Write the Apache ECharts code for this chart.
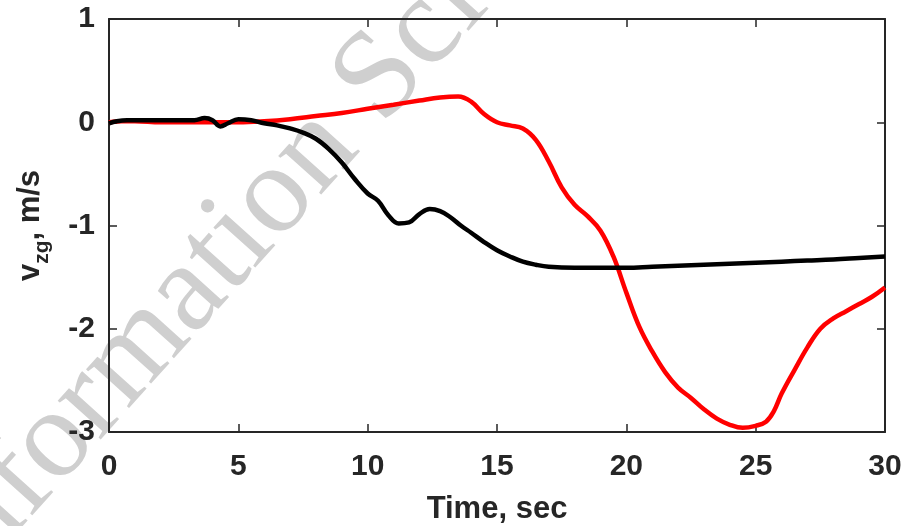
<!DOCTYPE html>
<html>
<head>
<meta charset="utf-8">
<script src="https://cdn.jsdelivr.net/npm/echarts@6/dist/echarts.min.js"></script>
<style>
html,body{margin:0;padding:0;background:#fff;}
#c{width:916px;height:526px;}
</style>
</head>
<body>
<div id="c"></div>
<script>
// ---- data ----
var tRed = [0,0.5,1,2,3,4,5,6,7,8,9,10,11,12,12.8,13.5,14,14.5,15,15.5,16,16.5,17,17.5,18,18.5,19,19.5,20,20.5,21,21.5,22,22.5,23,23.5,24,24.5,25,25.4,25.7,26,26.5,27,27.5,28,28.5,29,29.5,30];
var vRed = [0,0.01,0.01,0,0,0,0,0.01,0.03,0.06,0.09,0.13,0.17,0.21,0.24,0.25,0.2,0.08,0,-0.03,-0.06,-0.17,-0.38,-0.63,-0.8,-0.91,-1.05,-1.3,-1.65,-1.98,-2.22,-2.42,-2.57,-2.67,-2.78,-2.87,-2.93,-2.96,-2.94,-2.9,-2.8,-2.63,-2.4,-2.18,-2.0,-1.9,-1.83,-1.76,-1.69,-1.6];

var tBlack = [0,0.3,0.7,1.5,2.5,3.3,3.7,4.0,4.3,4.6,5.0,5.5,6.0,6.5,7.0,7.5,8.0,8.5,9.0,9.5,10.0,10.4,10.8,11.2,11.6,12.0,12.4,12.8,13.2,13.6,14.0,14.5,15.0,15.5,16.0,16.5,17.0,18.0,19.0,20.0,21.0,22.0,23.0,24.0,25.0,26.0,27.0,28.0,29.0,30.0];
var vBlack = [-0.01,0.01,0.02,0.02,0.02,0.02,0.04,0.02,-0.04,-0.01,0.03,0.02,-0.01,-0.03,-0.06,-0.1,-0.16,-0.26,-0.39,-0.55,-0.69,-0.76,-0.9,-0.98,-0.97,-0.89,-0.84,-0.86,-0.92,-1.0,-1.07,-1.16,-1.24,-1.3,-1.35,-1.38,-1.4,-1.41,-1.41,-1.41,-1.4,-1.39,-1.38,-1.37,-1.36,-1.35,-1.34,-1.33,-1.315,-1.3];

var xMin = 0, xMax = 30, xStep = 5;
var yMin = -3, yMax = 1, yStep = 1;
var xTitle = 'Time, sec';
var watermark = 'Information Science';

function pairs(t, v) { return t.map(function (x, i) { return [x, v[i]]; }); }

var dark = '#262626';
var fontFam = '"Liberation Sans", Arial, Helvetica, sans-serif';

var chart = echarts.init(document.getElementById('c'), null, {renderer: 'canvas'});
var axisLine = {show: true, onZero: false, lineStyle: {color: dark, width: 2}};
var tick = {show: true, inside: true, length: 8, lineStyle: {color: dark, width: 1.5}};

chart.setOption({
  animation: false,
  backgroundColor: '#fff',
  grid: {left: 109, right: 31, top: 19, bottom: 94, containLabel: false, outerBoundsMode: 'none'},
  graphic: [{
    type: 'text',
    x: -66, y: 575,
    rotation: 48 * Math.PI / 180,
    z: 0, zlevel: 0,
    silent: true,
    style: {
      text: watermark,
      font: '126px "Liberation Serif", "Times New Roman", serif',
      fill: '#cfcfcf',
      textAlign: 'left',
      textVerticalAlign: 'middle'
    }
  }],
  xAxis: [{
    type: 'value', min: xMin, max: xMax, interval: xStep,
    position: 'bottom',
    axisLine: axisLine, axisTick: tick, splitLine: {show: false},
    axisLabel: {color: dark, fontSize: 30, fontWeight: 'bold', fontFamily: fontFam, margin: 20},
    name: xTitle, nameLocation: 'middle', nameGap: 62,
    nameTextStyle: {color: dark, fontSize: 31, fontWeight: 'bold', fontFamily: fontFam}
  }, {
    type: 'value', min: xMin, max: xMax, interval: xStep,
    position: 'top',
    axisLine: axisLine, axisTick: tick, splitLine: {show: false},
    axisLabel: {show: false}
  }],
  yAxis: [{
    type: 'value', min: yMin, max: yMax, interval: yStep,
    position: 'left',
    axisLine: axisLine, axisTick: tick, splitLine: {show: false},
    axisLabel: {color: dark, fontSize: 30, fontWeight: 'bold', fontFamily: fontFam, margin: 14},
    name: '{a|v}{b|zg}{a|, m/s}', nameLocation: 'middle', nameRotate: 90, nameGap: 61,
    nameTextStyle: {
      color: dark, fontWeight: 'bold', fontFamily: fontFam,
      rich: {
        a: {fontSize: 31, fontWeight: 'bold', fontFamily: fontFam, color: dark, lineHeight: 33, verticalAlign: 'top'},
        b: {fontSize: 21, fontWeight: 'bold', fontFamily: fontFam, color: dark, lineHeight: 21, padding: [17, 0, 0, 0], verticalAlign: 'top'}
      }
    }
  }, {
    type: 'value', min: yMin, max: yMax, interval: yStep,
    position: 'right',
    axisLine: axisLine, axisTick: tick, splitLine: {show: false},
    axisLabel: {show: false}
  }],
  series: [{
    type: 'line', name: 'red', data: pairs(tRed, vRed),
    showSymbol: false, smooth: 0.4, z: 3,
    lineStyle: {color: '#ff0000', width: 4.5}, itemStyle: {color: '#ff0000'}
  }, {
    type: 'line', name: 'black', data: pairs(tBlack, vBlack),
    showSymbol: false, smooth: 0.4, z: 4,
    lineStyle: {color: '#000000', width: 4.5}, itemStyle: {color: '#000000'}
  }]
});
</script>
</body>
</html>
